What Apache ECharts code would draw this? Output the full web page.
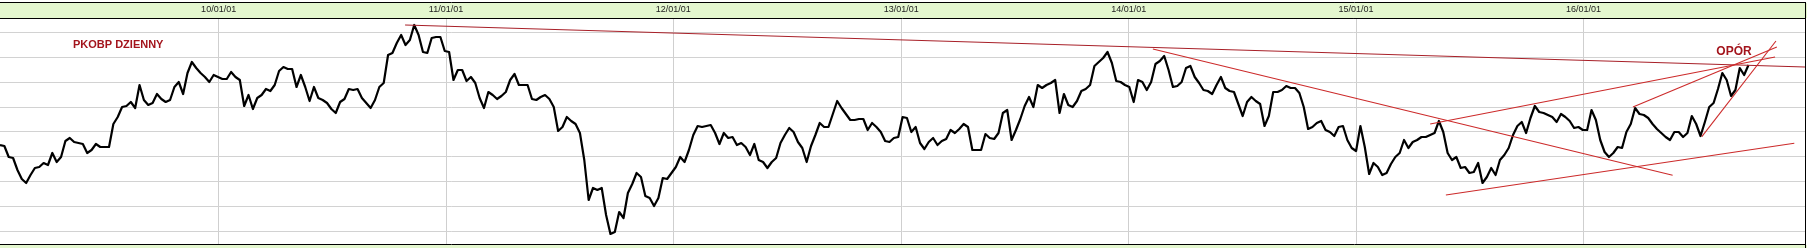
<!DOCTYPE html>
<html><head><meta charset="utf-8">
<script src="https://cdn.jsdelivr.net/npm/echarts@6/dist/echarts.min.js"></script>
<style>html,body{margin:0;padding:0;background:#fff;overflow:hidden}#c{width:1807px;height:248px}</style>
</head><body><div id="c"></div>
<script>
// ---- data (weekly closes, arbitrary price units) ----
const startDate = '2009-01-15';      // first weekly sample
const stepDays = 7;                  // one sample per week
const axisEndWeek = 413.96;          // right edge of the plot, in weeks from startDate
const closeValues = [
111,110,99,98,86,77,73,81,88,89,
93,91,103,94,99,115,118,114,113,112,
103,106,112,109,109,109,132,139,149,150,
154,148,171,156,151,153,162,157,154,156,
169,174,162,183,194,188,183,179,174,181,
179,177,177,184,179,176,150,161,147,158,
161,167,165,171,185,189,187,187,169,181,
169,155,169,158,156,153,147,143,154,157,
167,166,167,158,153,148,156,169,173,201,
203,213,221,211,216,231,221,204,203,218,
219,219,205,204,176,186,186,175,179,173,
158,148,164,161,157,160,164,176,182,171,
171,171,157,156,159,161,157,149,125,129,
139,135,132,123,96,56,68,66,68,41,
22,24,44,38,63,72,83,79,60,58,
50,58,78,77,83,89,99,94,106,121,
130,129,130,131,123,112,123,118,119,111,
113,109,101,112,96,94,88,94,98,113,
121,128,124,114,108,94,110,121,133,129,
129,142,155,148,142,136,136,137,137,126,
133,129,124,115,114,118,119,139,138,124,
129,113,107,114,118,111,115,117,126,123,
127,132,129,106,106,106,122,118,117,123,
143,146,116,126,137,150,159,149,171,168,
171,173,176,143,162,151,149,155,165,167,
171,190,194,198,204,193,175,174,171,169,
154,176,174,166,174,192,195,200,186,169,
170,174,188,190,179,173,166,165,162,171,
179,168,165,164,152,140,154,159,155,152,
130,140,164,164,166,170,168,168,163,149,
127,129,133,135,126,124,120,129,130,116,
108,105,130,109,82,93,89,81,83,92,
99,103,116,108,114,116,119,119,121,123,
135,124,103,96,99,88,89,83,84,93,
73,79,88,81,96,101,108,121,130,134,
123,138,150,144,143,141,139,134,142,139,
135,128,129,126,126,146,136,116,104,99,
103,109,108,124,132,148,142,141,138,132,
127,123,119,116,124,124,119,123,140,132,
120,134,149,153,167,183,176,160,166,188,
181,191
];
const yMin = 12, yMax = 238;
const gridValues = [25, 49.8, 74.7, 99.5, 124.3, 149.2, 174, 198.8, 223.6];
// trend lines: [[startWeek, value], [endWeek, value]]
const resistanceLine = [[92.9, 231], [413.96, 189]];
const downTrendLine = [[264.4, 207], [383.6, 80.7]];
const supportLine = [[331.6, 61], [411.5, 112.7]];
const channelTopLine = [[328.0, 132], [407.1, 199]];
const shortUpLine = [[374.5, 149], [407.5, 209]];
const steepUpLine = [[390.3, 119.3], [407.3, 215]];
const titleText = 'PKOBP DZIENNY';
const noteText = 'OPÓR';

// ---- build ----
const DAY = 86400000;
const p = startDate.split('-').map(Number);
const base = Date.UTC(p[0], p[1] - 1, p[2]);
const wk = w => base + w * stepDays * DAY;
const mainData = closeValues.map((v, i) => [wk(i), v]);
const redLine = (pts, color) => ({
  type: 'line', data: pts.map(q => [wk(q[0]), q[1]]), symbol: 'none', silent: true,
  z: 6, lineStyle: { color: color, width: 1.1 }
});
const chart = echarts.init(document.getElementById('c'), null, { renderer: 'canvas' });
const GREEN = '#e4f7cf';
chart.setOption({
  animation: false,
  useUTC: true,
  backgroundColor: '#fff',
  grid: { left: 0, right: 2, top: 18, bottom: 4, containLabel: false, outerBoundsMode: 'none' },
  xAxis: {
    type: 'time', position: 'top', min: base, max: wk(axisEndWeek),
    minInterval: 365 * DAY, maxInterval: 366 * DAY,
    axisLine: { show: true, lineStyle: { color: '#000', width: 1 } },
    axisTick: { show: false },
    axisLabel: { formatter: '{yy}/{MM}/{dd}', fontSize: 9, fontFamily: 'Liberation Sans', color: '#222', margin: 4,
      showMinLabel: false, showMaxLabel: false, hideOverlap: false },
    splitLine: { show: true, showMinLine: false, showMaxLine: false, lineStyle: { color: '#cfcfcf', width: 1 } }
  },
  yAxis: { type: 'value', min: yMin, max: yMax, show: false },
  series: [
    { type: 'line', data: mainData, symbol: 'none', silent: true, z: 1, lineStyle: { opacity: 0 },
      markLine: { silent: true, symbol: ['none', 'none'], label: { show: false },
        lineStyle: { color: '#d2d2d2', width: 1, type: 'solid' },
        data: gridValues.map(v => ({ yAxis: v })) } },
    { type: 'line', data: mainData, symbol: 'none', silent: true, z: 5,
      lineStyle: { color: '#000', width: 2.2, join: 'round' } },
    redLine(resistanceLine, '#a82028'),
    redLine(downTrendLine, '#cc2a2a'),
    redLine(supportLine, '#cc2a2a'),
    redLine(channelTopLine, '#cc2a2a'),
    redLine(shortUpLine, '#cc2a2a'),
    redLine(steepUpLine, '#cc2a2a')
  ],
  graphic: [
    { type: 'rect', z: -10, shape: { x: 0, y: 3, width: 1807, height: 15 }, style: { fill: GREEN } },
    { type: 'rect', z: -10, shape: { x: 0, y: 245, width: 1807, height: 3 }, style: { fill: GREEN } },
    { type: 'line', z: 100, shape: { x1: 0, y1: 2.5, x2: 1806, y2: 2.5 }, style: { stroke: '#000', lineWidth: 1 } },
    { type: 'line', z: 100, shape: { x1: 0, y1: 244.5, x2: 1806, y2: 244.5 }, style: { stroke: '#000', lineWidth: 1 } },
    { type: 'line', z: 100, shape: { x1: 1805.5, y1: 2, x2: 1805.5, y2: 248 }, style: { stroke: '#000', lineWidth: 1 } },
    { type: 'text', z: 100, x: 73, y: 44.5, style: { text: titleText, fill: '#a3141c', font: 'bold 11px "Liberation Sans", Arial, sans-serif', verticalAlign: 'middle' } },
    { type: 'text', z: 100, x: 1734, y: 51.5, style: { text: noteText, fill: '#a3141c', font: 'bold 12px "Liberation Sans", Arial, sans-serif', align: 'center', verticalAlign: 'middle' } }
  ]
});
</script></body></html>
